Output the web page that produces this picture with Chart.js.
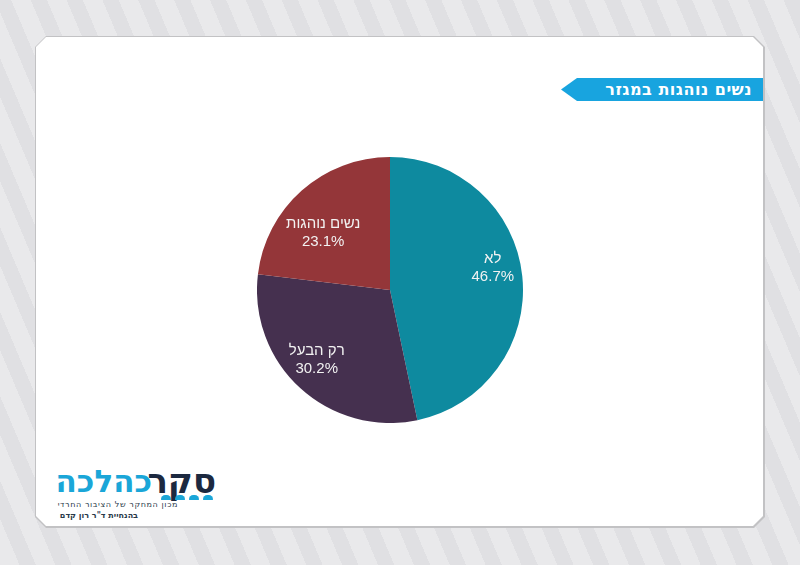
<!DOCTYPE html>
<html><head><meta charset="utf-8">
<script src="https://cdn.jsdelivr.net/npm/chart.js@4"></script>
<style>
html,body{margin:0;padding:0;}
body{width:800px;height:565px;overflow:hidden;position:relative;
background:repeating-linear-gradient(67deg,#e9e9eb 0px,#e9e9eb 18px,#e0e0e3 18px,#e0e0e3 33px);
font-family:"Liberation Sans",Arial,sans-serif;}
#shadow{position:absolute;left:35px;top:36px;width:730px;height:492px;background:#c2c2c4;
clip-path:polygon(11px 0,calc(100% - 11px) 0,100% 11px,100% calc(100% - 11px),calc(100% - 11px) 100%,11px 100%,0 calc(100% - 11px),0 11px);}
#panel{position:absolute;left:36px;top:37px;width:727px;height:489px;background:#fff;
clip-path:polygon(10px 0,calc(100% - 10px) 0,100% 10px,100% calc(100% - 10px),calc(100% - 10px) 100%,10px 100%,0 calc(100% - 10px),0 10px);}
#banner{position:absolute;left:561px;top:78px;width:202px;height:23px;background:#18a4df;
clip-path:polygon(16px 0,100% 0,100% 100%,16px 100%,0 50%);}
#banner span{position:absolute;right:11px;top:2px;color:#fff;font:bold 16px "DejaVu Sans",sans-serif;direction:rtl;letter-spacing:0.5px;}
#chartbox{position:absolute;left:257px;top:157px;width:266px;height:266px;}
#logo{position:absolute;left:60px;top:460px;width:160px;height:60px;direction:rtl;}
.big{position:absolute;top:2px;font:bold 34px "DejaVu Sans",sans-serif;line-height:38px;white-space:nowrap;}
.sub{position:absolute;font:8px "DejaVu Sans",sans-serif;color:#2a3a4a;white-space:nowrap;direction:rtl;}
.drop{position:absolute;top:35px;width:10px;height:5px;background:#1aa6d8;border-radius:5px 5px 1px 1px;}
</style></head>
<body>
<div id="shadow"></div>
<div id="panel"></div>
<div id="banner"><span>נשים נוהגות במגזר</span></div>
<div id="chartbox"><canvas id="c"></canvas></div>
<div id="logo">
  <span class="big" style="right:4px;color:#1c2940;">סקר</span>
  <span class="big" style="right:68px;color:#1aa6d8;font-size:31px;">כהלכה</span>
  <div class="drop" style="right:7px;"></div>
  <div class="drop" style="right:21px;"></div>
  <div class="drop" style="right:35px;"></div>
  <div class="drop" style="right:49px;"></div>
  <span class="sub" style="right:42px;top:40px;letter-spacing:0.6px;">מכון המחקר של הציבור החרדי</span>
  <span class="sub" style="right:82px;top:51px;font-weight:bold;">בהנחיית ד"ר רון קדם</span>
</div>
<script>
const categories = ["לא", "רק הבעל", "נשים נוהגות"];
const values = [46.7, 30.2, 23.1];
const colors = ["#0e8a9f", "#45304f", "#943639"];

const labelPlugin = {
  id: 'inLabels',
  afterDatasetsDraw(chart) {
    const ctx = chart.ctx;
    const meta = chart.getDatasetMeta(0);
    const factors = [0.79, 0.76, 0.66];
    const shifts = [-6, 4, -8];
    meta.data.forEach((arc, i) => {
      const p = arc.getProps(['x','y','startAngle','endAngle','outerRadius'], true);
      const mid = (p.startAngle + p.endAngle) / 2 + shifts[i] * Math.PI / 180;
      const r = p.outerRadius * factors[i];
      const x = p.x + Math.cos(mid) * r;
      const y = p.y + Math.sin(mid) * r;
      ctx.save();
      ctx.fillStyle = '#f2f2f2';
      ctx.textAlign = 'center';
      ctx.textBaseline = 'middle';
      ctx.font = '15px "Liberation Sans", Arial, sans-serif';
      ctx.direction = 'rtl';
      ctx.fillText(categories[i], x, y - 9);
      ctx.direction = 'ltr';
      ctx.fillText(values[i].toFixed(1) + '%', x, y + 9);
      ctx.restore();
    });
  }
};

new Chart(document.getElementById('c'), {
  type: 'pie',
  data: { labels: categories, datasets: [{ data: values, backgroundColor: colors, borderWidth: 0 }] },
  options: {
    responsive: true, maintainAspectRatio: false, animation: false,
    layout: { padding: 0 },
    plugins: { legend: { display: false }, tooltip: { enabled: false } }
  },
  plugins: [labelPlugin]
});
</script>
</body></html>
